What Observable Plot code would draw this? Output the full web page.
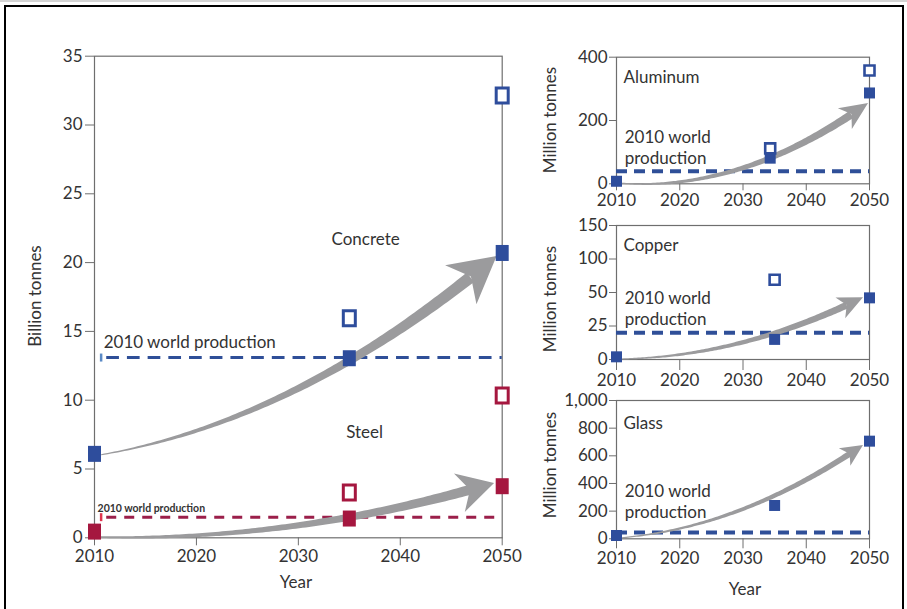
<!DOCTYPE html>
<html><head><meta charset="utf-8">
<script src="https://cdn.jsdelivr.net/npm/d3@7"></script>
<script src="https://cdn.jsdelivr.net/npm/@observablehq/plot@0.6"></script>
<style>
body{margin:0;background:#fff;}
#wrap{position:relative;width:907px;height:609px;overflow:hidden;background:#fff;font-family:Lato,sans-serif;color:#333;}
.panel{position:absolute;}
.lbl{position:absolute;font-size:17px;color:#333;white-space:nowrap;transform:translate(-50%,-50%);}
.rot{transform:translate(-50%,-50%) rotate(-90deg);}
#border{position:absolute;left:4px;top:5px;width:895.5px;height:700px;border:2.5px solid #000;border-bottom:none;}
#topline{position:absolute;left:0;top:0;width:907px;height:2px;background:#d4d4d4;}
</style></head><body>
<div id="wrap">
  <div id="topline"></div>
  <div id="border"></div>
  <div class="panel" id="main" style="left:20px;top:40px;"></div>
  <div class="panel" id="alu" style="left:530px;top:40px;"></div>
  <div class="panel" id="cop" style="left:530px;top:215px;"></div>
  <div class="panel" id="gla" style="left:530px;top:390px;"></div>
  <div class="lbl rot" style="left:34px;top:296px;">Billion tonnes</div>
  <div class="lbl" style="left:296px;top:581px;">Year</div>
  <div class="lbl rot" style="left:549px;top:120px;">Million tonnes</div>
  <div class="lbl rot" style="left:549px;top:299px;">Million tonnes</div>
  <div class="lbl rot" style="left:549px;top:465px;">Million tonnes</div>
  <div class="lbl" style="left:745px;top:588px;">Year</div>
</div>
<script>
// ---------------- DATA ----------------
const xTicks = [2010, 2020, 2030, 2040, 2050];
const mainYTicks = [0, 5, 10, 15, 20, 25, 30, 35];
const aluYTicks = [0, 200, 400];
const copYTicks = [0, 25, 50, 100, 150];
const glaYTicks = [0, 200, 400, 600, 800, 1000];

// Main panel (billion tonnes)
const mainYears = [2010, 2035, 2050];
const openYears = [2035, 2050];
const concreteFilled = [6.1, 13.05, 20.7];
const concreteOpen = [15.95, 32.15];
const steelFilled = [0.45, 1.4, 3.75];
const steelOpen = [3.3, 10.35];
const concreteWorld2010 = 13.1;
const steelWorld2010 = 1.5;

// Aluminum (million tonnes)
const aluYears = [2010, 2034.3, 2050];
const aluOpenYears = [2034.3, 2050];
const aluFilled = [8, 81, 287];
const aluOpen = [112, 358];
const aluWorld2010 = 40;

// Copper (million tonnes)
const copYears = [2010, 2035, 2050];
const copOpenYears = [2035];
const copFilled = [2, 15, 46];
const copOpen = [69];
const copWorld2010 = 20;

// Glass (million tonnes)
const glaYears = [2010, 2035, 2050];
const glaFilled = [24, 241, 706];
const glaWorld2010 = 46;

// Trend arrows: start, bend (control), tip  [year, value]
const concreteArrow = [[2010.7, 6.0], [2030.2, 8.5], [2049.5, 20.45]];
const steelArrow = [[2010.2, 0.02], [2029.8, -0.3], [2049.25, 3.95]];
const aluArrow = [[2010.3, 1], [2029.9, -31], [2049.85, 254]];
const copArrow = [[2010.3, 0], [2029.7, 1.1], [2049.05, 46]];
const glaArrow = [[2010.3, 2], [2029.7, 71], [2049.05, 675]];

// ---------------- STYLE ----------------
const BLUE = "#2e4d9c", RED = "#a5173f", GREY = "#9b9b9d", DBLUE = "#2f4f98", DRED = "#9b1f4a";
const FRAME = "#6e6e6e";
const FONT = "Lato, sans-serif";
const pts = (xs, ys) => xs.map((x, i) => ({x, y: ys[i]}));
function rectSym(w, h) {
  return {draw(ctx) { ctx.moveTo(-w/2, -h/2); ctx.lineTo(w/2, -h/2); ctx.lineTo(w/2, h/2); ctx.lineTo(-w/2, h/2); ctx.closePath(); }};
}
function arrowMark(ctrl, st) {
  return (index, scales) => {
    const [p0, c, p1] = ctrl.map(([a, b]) => [scales.x(a), scales.y(b)]);
    const bez = t => [(1-t)*(1-t)*p0[0] + 2*(1-t)*t*c[0] + t*t*p1[0], (1-t)*(1-t)*p0[1] + 2*(1-t)*t*c[1] + t*t*p1[1]];
    const N = 120;
    const s = d3.range(N + 1).map(i => bez(i / N));
    const tip = p1;
    const dist = p => Math.hypot(p[0] - tip[0], p[1] - tip[1]);
    let k = N; while (k > 0 && dist(s[k]) < st.len) k--;
    const back = s[k];
    let ux = tip[0] - back[0], uy = tip[1] - back[1]; const ul = Math.hypot(ux, uy); ux /= ul; uy /= ul;
    const nx = -uy, ny = ux;
    const bc = [tip[0] - ux*st.len, tip[1] - uy*st.len];
    const notch = [tip[0] - ux*(st.len - st.notch), tip[1] - uy*(st.len - st.notch)];
    let m = N; while (m > 0 && dist(s[m]) < st.len - st.notch - 2) m--;
    const shaft = s.slice(0, m + 1);
    const L = [], R = [];
    shaft.forEach((p, i) => {
      const a = shaft[Math.max(0, i - 1)], b = shaft[Math.min(shaft.length - 1, i + 1)];
      let tx = b[0] - a[0], ty = b[1] - a[1]; const tl = Math.hypot(tx, ty) || 1; tx /= tl; ty /= tl;
      const w = (st.w0 + (st.w1 - st.w0) * i / (shaft.length - 1)) / 2;
      L.push([p[0] - ty*w, p[1] + tx*w]); R.push([p[0] + ty*w, p[1] - tx*w]);
    });
    const shaftD = "M" + L.map(p => p.join(",")).join("L") + "L" + R.reverse().map(p => p.join(",")).join("L") + "Z";
    const headD = `M${tip[0]},${tip[1]}L${bc[0] + nx*st.half},${bc[1] + ny*st.half}L${notch[0]},${notch[1]}L${bc[0] - nx*st.half},${bc[1] - ny*st.half}Z`;
    const g = d3.create("svg:g").attr("fill", GREY);
    g.append("path").attr("d", shaftD);
    g.append("path").attr("d", headD);
    return g.node();
  };
}
const baseStyle = {fontFamily: FONT, fontSize: "17px", color: "#333", background: "transparent", overflow: "visible"};

// ---------------- MAIN ----------------
const mainFilledSym = rectSym(13, 16), mainOpenSym = rectSym(12, 15);
const main = Plot.plot({
  width: 500, height: 560, marginLeft: 74, marginRight: 18.3, marginTop: 15.7, marginBottom: 62.7,
  style: baseStyle,
  x: {domain: [2010, 2050]},
  y: {domain: [0, 35]},
  marks: [
    Plot.axisX({ticks: xTicks, tickFormat: "d", tickSize: 8, tickPadding: 4, stroke: FRAME, fill: "#333", label: null}),
    Plot.axisY({ticks: mainYTicks, tickSize: 9, tickPadding: 3, stroke: FRAME, fill: "#333", label: null}),
    Plot.frame({stroke: FRAME, strokeWidth: 1.2}),
    Plot.ruleY([concreteWorld2010], {x1: 2011.2, x2: 2050, stroke: DBLUE, strokeWidth: 3, strokeDasharray: "12.7,8"}),
    Plot.ruleY([steelWorld2010], {x1: 2011.2, x2: 2050, stroke: DRED, strokeWidth: 3, strokeDasharray: "10,8"}),
    Plot.dot([{x: 2010.65, y: concreteWorld2010}], {x: "x", y: "y", symbol: rectSym(2.5, 8), fill: "#5a8ac6"}),
    Plot.dot([{x: 2010.65, y: steelWorld2010}], {x: "x", y: "y", symbol: rectSym(2.5, 8), fill: "#e0344e"}),
    arrowMark(concreteArrow, {w0: 1, w1: 12, len: 46, half: 25, notch: 13}),
    arrowMark(steelArrow, {w0: 1.5, w1: 10, len: 36, half: 20, notch: 11}),
    Plot.dot(pts(mainYears, concreteFilled), {x: "x", y: "y", symbol: mainFilledSym, fill: BLUE}),
    Plot.dot(pts(openYears, concreteOpen), {x: "x", y: "y", symbol: mainOpenSym, fill: "white", stroke: BLUE, strokeWidth: 3}),
    Plot.dot(pts(mainYears, steelFilled), {x: "x", y: "y", symbol: mainFilledSym, fill: RED}),
    Plot.dot(pts(openYears, steelOpen), {x: "x", y: "y", symbol: mainOpenSym, fill: "white", stroke: RED, strokeWidth: 3}),
    Plot.text(["Concrete"], {x: 2036.6, y: 21.68, fontSize: 17, fill: "#333"}),
    Plot.text(["Steel"], {x: 2036.5, y: 7.67, fontSize: 17, fill: "#333"}),
    Plot.text(["2010 world production"], {x: 2010.9, y: 14.17, textAnchor: "start", fontSize: 17, fill: "#333"}),
    Plot.text(["2010 world production"], {x: 2010.3, y: 2.15, textAnchor: "start", fontSize: 10.5, fontWeight: 700, fill: "#333"})
  ]
});
document.getElementById("main").appendChild(main);

// ---------------- SMALL PANELS ----------------
const smFilled = rectSym(11, 11), smOpen = rectSym(10, 10);
function small({height, top, bottom, yOpt, yTicks, tickSize, filled, open, world, arrow, head, name, nameY, wpY}) {
  const marks = [
    Plot.axisX({ticks: xTicks, tickFormat: "d", tickSize, tickPadding: 3, stroke: FRAME, fill: "#333", label: null}),
    Plot.axisY({ticks: yTicks, tickSize: 7, tickPadding: 2, stroke: FRAME, fill: "#333", label: null}),
    Plot.frame({stroke: FRAME, strokeWidth: 1.2}),
    Plot.ruleY([world], {x1: 2010, x2: 2050, stroke: DBLUE, strokeWidth: 4, strokeDasharray: "11,7"}),
    arrowMark(arrow, head),
    Plot.dot(filled, {x: "x", y: "y", symbol: smFilled, fill: BLUE})
  ];
  if (open) marks.push(Plot.dot(open, {x: "x", y: "y", symbol: smOpen, fill: "white", stroke: BLUE, strokeWidth: 2.6}));
  marks.push(
    Plot.text([name], {x: 2011.1, y: nameY, textAnchor: "start", fontSize: 17, fill: "#333"}),
    Plot.text(["2010 world\nproduction"], {x: 2011.3, y: wpY, textAnchor: "start", fontSize: 17, lineHeight: 1.25, fill: "#333"})
  );
  return Plot.plot({
    width: 370, height, marginLeft: 86, marginRight: 31, marginTop: top, marginBottom: bottom,
    style: baseStyle,
    x: {domain: [2010, 2050]},
    y: yOpt,
    marks
  });
}
document.getElementById("alu").appendChild(small({
  height: 180, top: 16.7, bottom: 36.7, yOpt: {domain: [0, 400]}, yTicks: aluYTicks, tickSize: 7,
  filled: pts(aluYears, aluFilled), open: pts(aluOpenYears, aluOpen), world: aluWorld2010,
  arrow: aluArrow, head: {w0: 1, w1: 8, len: 28, half: 12.5, notch: 8},
  name: "Aluminum", nameY: 337, wpY: 118
}));
// Copper uses an evenly spaced piecewise scale over its tick values
const copH = 180, copTop = 10, copBottom = 36;
const copRange = copYTicks.map((d, i) => (copH - copBottom) - i * (copH - copBottom - copTop) / (copYTicks.length - 1));
document.getElementById("cop").appendChild(small({
  height: copH, top: copTop, bottom: copBottom, yOpt: {type: "linear", domain: copYTicks, range: copRange}, yTicks: copYTicks, tickSize: 11,
  filled: pts(copYears, copFilled), open: pts(copOpenYears, copOpen), world: copWorld2010,
  arrow: copArrow, head: {w0: 1, w1: 7, len: 25, half: 11.5, notch: 7},
  name: "Copper", nameY: 119.4, wpY: 38.9
}));
document.getElementById("gla").appendChild(small({
  height: 180, top: 10, bottom: 31.7, yOpt: {domain: [0, 1000]}, yTicks: glaYTicks, tickSize: 10,
  filled: pts(glaYears, glaFilled), open: null, world: glaWorld2010,
  arrow: glaArrow, head: {w0: 1, w1: 6, len: 22, half: 10.5, notch: 6},
  name: "Glass", nameY: 836, wpY: 277
}));
</script>
</body></html>
